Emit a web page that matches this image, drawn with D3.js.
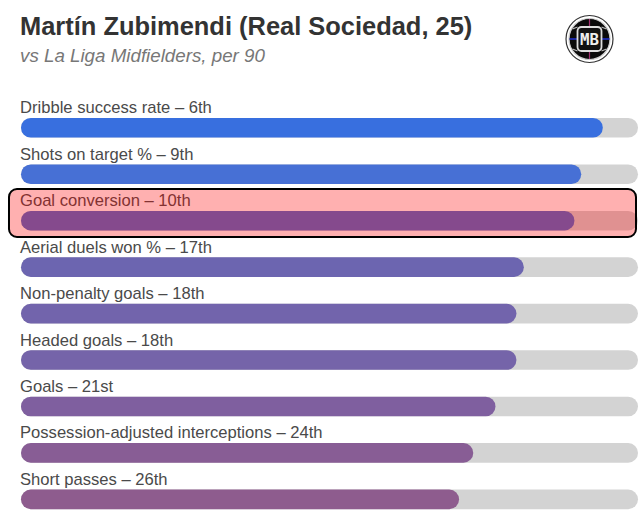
<!DOCTYPE html>
<html>
<head>
<meta charset="utf-8">
<script src="https://cdn.jsdelivr.net/npm/d3@7"></script>
<style>
  html, body { margin: 0; padding: 0; background: #fff; }
  svg { display: block; font-family: "Liberation Sans", Arial, sans-serif; }
</style>
</head>
<body>
<svg id="chart" width="639" height="513"></svg>
<script>
// datos
const metrics = ['Dribble success rate', 'Shots on target %', 'Goal conversion', 'Aerial duels won %',
  'Non-penalty goals', 'Headed goals', 'Goals', 'Possession-adjusted interceptions', 'Short passes'];
const ranks = ['6th', '9th', '10th', '17th', '18th', '18th', '21st', '24th', '26th'];
const percentiles = [94.3, 90.8, 89.7, 81.5, 80.3, 80.3, 76.9, 73.3, 71];
const barColors = ['#386fdf', '#4770d5', '#4f6ccd', '#6c65b0', '#7264ac', '#7564a9', '#7f5f9f', '#885d95', '#8e5c8e'];

const svg = d3.select('#chart');

const x = d3.scaleLinear().domain([0, 100]).range([21, 638]);
const y = d3.scaleBand().domain(metrics).range([95, 513]);
const BAR_H = 19.6;
const barTop = m => y(m) + 23;

// Título
svg.append('text').attr('x', 20).attr('y', 35)
  .attr('font-size', 25.45).attr('font-weight', 700).attr('fill', '#333')
  .text('Martín Zubimendi (Real Sociedad, 25)');
svg.append('text').attr('x', 20).attr('y', 62)
  .attr('font-size', 18.75).attr('font-style', 'italic').attr('fill', '#777')
  .text('vs La Liga Midfielders, per 90');

// Filas
const row = svg.selectAll('g.row').data(metrics).join('g').attr('class', 'row');

row.append('text')
  .attr('x', 20).attr('y', m => barTop(m) - 4.7)
  .attr('font-size', 16.6).attr('fill', '#4a4a4a')
  .text((m, i) => `${m} – ${ranks[i]}`);

row.append('rect')
  .attr('x', x(0)).attr('y', barTop)
  .attr('width', x(100) - x(0)).attr('height', BAR_H)
  .attr('rx', BAR_H / 2).attr('fill', '#d3d3d3');

row.append('rect')
  .attr('x', x(0)).attr('y', barTop)
  .attr('width', (m, i) => x(percentiles[i]) - x(0)).attr('height', BAR_H)
  .attr('rx', BAR_H / 2).attr('fill', (m, i) => barColors[i]);

// Resaltado de la fila
svg.append('rect')
  .attr('x', 9).attr('y', 189).attr('width', 627).attr('height', 48)
  .attr('rx', 8)
  .attr('fill', 'rgba(255,0,0,0.31)').attr('stroke', '#000').attr('stroke-width', 2);

// Logo MB
const logo = svg.append('g').attr('transform', 'translate(589.5,39)');
logo.append('circle').attr('r', 23.5).attr('fill', '#fff').attr('stroke', '#333').attr('stroke-width', 1.2);
logo.append('circle').attr('r', 20.5).attr('fill', '#0a0a0a').attr('stroke', '#ccc').attr('stroke-width', 1.2);
logo.append('path').attr('d', 'M0,-20V-12M0,12V20').attr('stroke', '#a03070').attr('stroke-width', 1.2);
logo.append('path').attr('d', 'M-20,0H-12M12,0H20').attr('stroke', '#2030d0').attr('stroke-width', 1.5);
logo.append('path').attr('d', 'M-12,-12L-17,-10M12,-12L17,-10M-12,12L-17,10M12,12L17,10').attr('stroke', '#bbb').attr('stroke-width', 1.2);
logo.append('rect').attr('x', -12).attr('y', -12).attr('width', 24).attr('height', 24).attr('rx', 4)
  .attr('fill', '#111').attr('stroke', '#ddd').attr('stroke-width', 1.8);
logo.append('text').attr('text-anchor', 'middle').attr('y', 6)
  .attr('font-size', 16).attr('font-weight', 700).attr('font-family', '"DejaVu Sans Mono", monospace')
  .attr('textLength', 19).attr('lengthAdjust', 'spacingAndGlyphs').attr('fill', '#eee').text('MB');
</script>
</body>
</html>
